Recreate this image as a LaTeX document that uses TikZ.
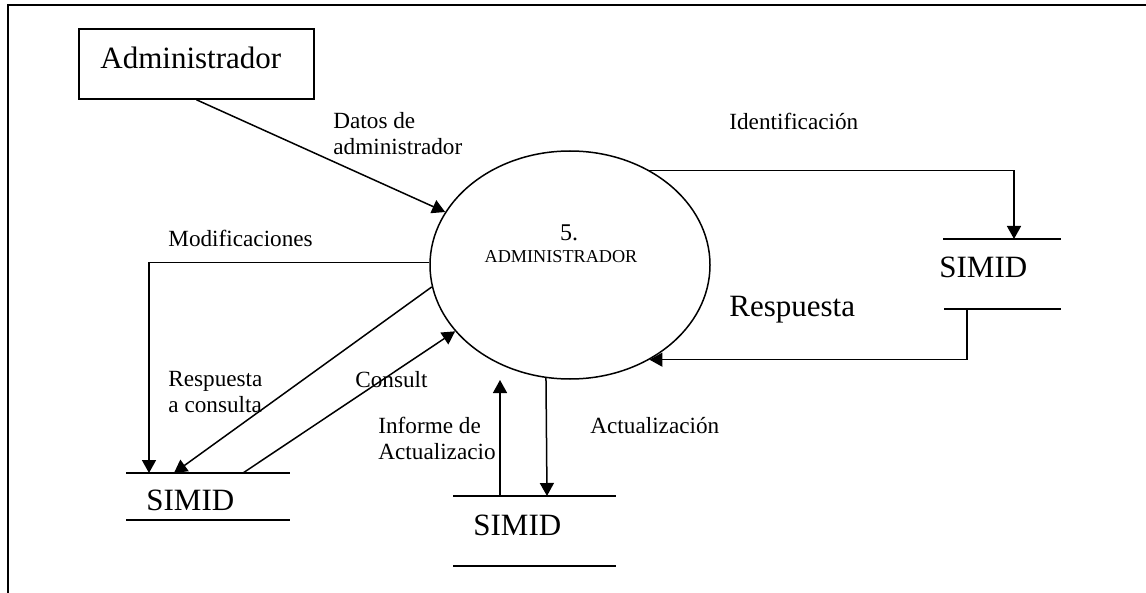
\documentclass[tikz,border=0pt]{standalone}
\usepackage{fontspec}
\setmainfont{Liberation Serif}
\usepackage{tikz}
\usetikzlibrary{arrows.meta,shapes.geometric}

\tikzset{
  flow/.style={-{Triangle[length=6.5pt,width=7pt]},line width=0.75pt},
  store/.style={line width=0.8pt},
  lbl/.style={font=\fontsize{11.6}{13}\selectfont,align=left,inner sep=0pt,anchor=base west},
  big/.style={font=\fontsize{15.5}{18}\selectfont,inner sep=0pt,anchor=base west},
}

\begin{document}
\begin{tikzpicture}[x=0.5pt,y=-0.5pt]
\useasboundingbox (0,0) rectangle (1146,593);
%frame
\draw[line width=1pt] (8,593) -- (8,5) -- (1146,5);
%entity and process
\node[draw,line width=0.8pt,minimum width=117.5pt,minimum height=35pt,inner sep=0pt] (adm) at (196.5,64) {};
\node[big] (admtxt) at (100,69) {Administrador};
\node[draw,ellipse,line width=0.75pt,minimum width=140pt,minimum height=114pt,inner sep=0pt] (proc) at (570,265) {};
\node[font=\fontsize{12}{14}\selectfont,inner sep=0pt,anchor=base] (pnum) at (569,241) {5.};
\node[font=\fontsize{9.1}{11}\selectfont,inner sep=0pt,anchor=base] (pname) at (561,263) {ADMINISTRADOR};
%stores
\draw[store] (126,473) -- (290,473) (126,520) -- (290,520);
\node[big] (sL) at (146,510) {SIMID};
\coordinate (sLa) at (149,473);
\coordinate (sLb) at (174,473);
\coordinate (sLc) at (243,473);
\draw[store] (453,496) -- (616,496) (453,566) -- (616,566);
\node[big] (sM) at (473,535) {SIMID};
\coordinate (sMa) at (500,496);
\coordinate (sMb) at (547,496);
\coordinate (infoEnd) at (500,380);
\draw[store] (943,239) -- (1061,239) (944,309) -- (1061,309);
\node[big] (sR) at (939,278) {SIMID};
\coordinate (sRa) at (1014,239);
\coordinate (sRb) at (967,309);
%flows
\draw[flow] (adm.south) -- (proc.157);
\draw[flow] (proc.50) -| (sRa);
\draw[flow] (sRb) |- (proc.-50);
\draw[flow] (proc.179) -| (sLa);
\draw[flow] (proc.189) -- (sLb);
\draw[flow] (sLc) -- (proc.210);
\draw[flow] (sMa) -- (infoEnd);
\draw[flow] (proc.258) -- (sMb);
%labels (base = last line)
\node[lbl] (lDatos) at (333,155) {Datos de\\administrador};
\node[lbl] (lIdent) at (729,130) {Identificación};
\node[big] (lResp) at (729,317) {Respuesta};
\node[lbl] (lMod) at (168,247) {Modificaciones};
\node[lbl] (lRespC) at (168,412) {Respuesta\\a consulta};
\node[lbl] (lCons) at (355,387) {Consult};
\node[lbl] (lInf) at (378,459) {Informe de\\Actualizacio};
\node[lbl] (lAct) at (590,433) {Actualización};
\end{tikzpicture}
\end{document}
